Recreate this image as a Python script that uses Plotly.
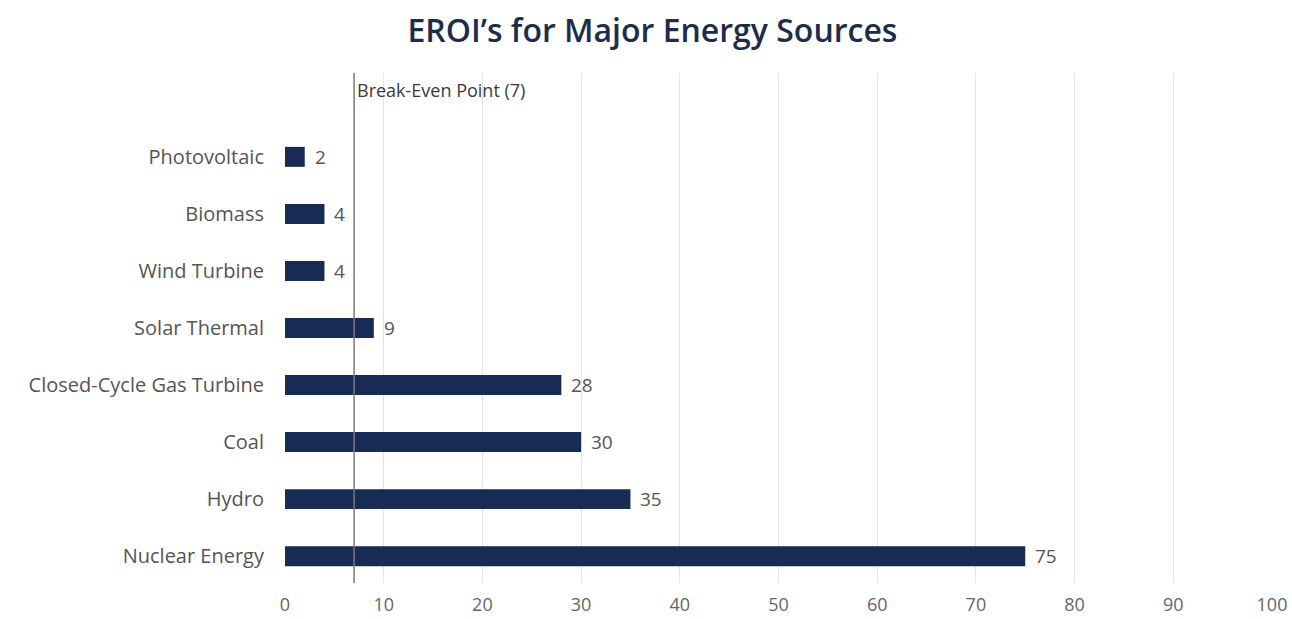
import plotly.graph_objects as go

# EROI values by energy source (bottom to top)
sources = ["Nuclear Energy", "Hydro", "Coal", "Closed-Cycle Gas Turbine",
           "Solar Thermal", "Wind Turbine", "Biomass", "Photovoltaic"]
eroi = [75, 35, 30, 28, 9, 4, 4, 2]
break_even = 7
x_ticks = [0, 10, 20, 30, 40, 50, 60, 70, 80, 90, 100]

FONT = "Open Sans"

fig = go.Figure()
fig.add_trace(go.Bar(
    x=eroi, y=sources, orientation="h",
    marker=dict(color="#172b55", line=dict(width=0)),
    width=0.35,
))

# value labels to the right of each bar
for src, val in zip(sources, eroi):
    fig.add_annotation(x=val, y=src, text=str(val), showarrow=False,
                       xanchor="left", yanchor="middle", xshift=8,
                       font=dict(family=FONT, size=19, color="#555555"))

# break-even reference line
fig.add_shape(type="line", xref="x", yref="paper",
              x0=break_even, x1=break_even, y0=0, y1=1,
              line=dict(color="#7a7a7a", width=1.5))
fig.add_annotation(xref="x", yref="paper", x=break_even, y=0.967,
                   text=f"Break-Even Point ({break_even})", showarrow=False,
                   xanchor="left", yanchor="middle", xshift=1,
                   font=dict(family=FONT, size=18, color="#3a3a3a"))

fig.update_layout(
    width=1292, height=619,
    margin=dict(l=285, r=20, t=73, b=36),
    paper_bgcolor="white", plot_bgcolor="white",
    title=dict(text="EROI’s for Major Energy Sources", x=0.505, xanchor="center",
               y=0.950, yanchor="middle",
               font=dict(family=FONT, size=32, color="#1e2c4c", weight=600)),
    showlegend=False,
    xaxis=dict(range=[0, 100], tickvals=x_ticks, showgrid=True,
               gridcolor="#e3e3e3", gridwidth=1, zeroline=False,
               showline=False, ticks="", ticklabelstandoff=9,
               automargin=False,
               tickfont=dict(family=FONT, size=18, color="#666666")),
    yaxis=dict(range=[-0.47, 8.47], showgrid=False, zeroline=False,
               showline=False, ticks="", ticklabelstandoff=20,
               automargin=False,
               tickfont=dict(family=FONT, size=20, color="#555555")),
)

fig.write_html("out.html")
